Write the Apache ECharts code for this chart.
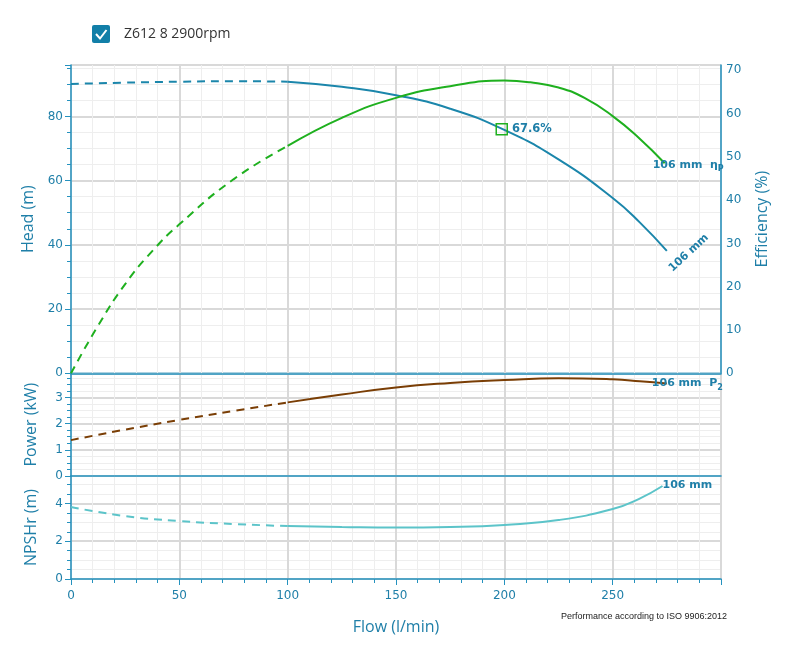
<!DOCTYPE html>
<html><head><meta charset="utf-8">
<script src="https://cdn.jsdelivr.net/npm/echarts@6/dist/echarts.min.js"></script>
<style>html,body{margin:0;padding:0;background:#fff}#c{width:788px;height:660px}</style>
</head><body><div id="c"></div>
<script>
// ---- data (flow in l/min) ----
const headDashFlow = [0, 25, 50, 75, 100];
const headDash     = [90.1, 90.5, 90.8, 90.95, 90.8];
const headFlow     = [100, 125, 150, 175, 200, 225, 250, 262.5, 275];
const head         = [90.8, 89.2, 86.6, 82.4, 75.8, 66.6, 54.6, 47.0, 38.1];

const effDashFlow  = [0, 12.5, 25, 37.5, 50, 75, 100];
const effDash      = [0, 11.0, 20.6, 28.2, 34.4, 44.8, 52.5];
const effFlow      = [100, 125, 150, 175, 200, 212, 225, 237, 250, 262, 274];
const eff          = [52.5, 59.0, 63.6, 66.3, 67.6, 67.2, 66.0, 63.6, 59.4, 54.4, 48.5];

const powDashFlow  = [0, 25, 50, 75, 100];
const powDash      = [1.37, 1.77, 2.14, 2.48, 2.81];
const powFlow      = [100, 125, 150, 175, 200, 225, 250, 262.5, 275];
const pow          = [2.81, 3.11, 3.38, 3.55, 3.66, 3.73, 3.69, 3.62, 3.53];

const npshDashFlow = [0, 25, 50, 75, 100];
const npshDash     = [3.81, 3.33, 3.07, 2.91, 2.80];
const npshFlow     = [100, 125, 150, 175, 200, 225, 250, 262, 273];
const npsh         = [2.80, 2.75, 2.72, 2.75, 2.86, 3.12, 3.70, 4.23, 4.92];

const bepPoint = [198.8, 76.0];
const bepLabel = '67.6%';
const curveLabel = '106 mm';
const legendText = 'Z612 8 2900rpm';

// ---- styles ----
const TX = '#1f7fa8', AX = '#2592bf', BORDER = '#1e7799';
const C_HEAD = '#1b86ab', C_EFF = '#1fb01f', C_POW = '#7a3e05', C_NPSH = '#5cc4c9';
const TICKF = 'DejaVu Sans', NAMEF = 'Open Sans';
const pairs = (xs, ys) => xs.map((x, i) => [x, ys[i]]);
const lblBold = {color: TX, fontWeight: 'bold', fontSize: 11, fontFamily: 'DejaVu Sans'};

function xAxisFor(g, bottom) {
  return {
    type: 'value', gridIndex: g, min: 0, max: 300, interval: 50,
    axisLine: {show: true, onZero: false, lineStyle: {color: AX, width: 1.5}},
    axisTick: {show: bottom, length: 6, lineStyle: {color: AX}},
    minorTick: {show: bottom, splitNumber: 5, length: 4, lineStyle: {color: AX}},
    axisLabel: {show: bottom, margin: 11, color: TX, fontSize: 12, fontFamily: TICKF, showMaxLabel: false},
    splitLine: {show: true, lineStyle: {color: '#d9d9d9', width: 2}},
    minorSplitLine: {show: true, lineStyle: {color: '#eeeeee', width: 1}},
    name: bottom ? 'Flow (l/min)' : '', nameLocation: 'middle', nameGap: 40,
    nameTextStyle: {color: TX, fontSize: 16, fontFamily: NAMEF}
  };
}
function yAxisFor(g, min, max, interval, minorSplit, name) {
  return {
    type: 'value', gridIndex: g, position: 'left', min: min, max: max, interval: interval,
    axisLine: {show: true, onZero: false, lineStyle: {color: AX, width: 1.5}},
    axisTick: {show: true, length: 6, lineStyle: {color: AX}},
    minorTick: {show: true, splitNumber: minorSplit, length: 4, lineStyle: {color: AX}},
    axisLabel: {margin: 8, color: TX, fontSize: 12, fontFamily: TICKF, showMaxLabel: false},
    splitLine: {show: true, lineStyle: {color: '#d9d9d9', width: 2}},
    minorSplitLine: {show: true, lineStyle: {color: '#eeeeee', width: 1}},
    name: name, nameLocation: 'middle', nameGap: 32,
    nameTextStyle: {color: TX, fontSize: 16, fontFamily: NAMEF}
  };
}
function line(xi, yi, data, color, dashed, extra) {
  return Object.assign({
    type: 'line', xAxisIndex: xi, yAxisIndex: yi, data: data, smooth: true,
    showSymbol: false, symbol: 'none', silent: true,
    lineStyle: {color: color, width: 2, type: dashed ? [8, 6] : 'solid'},
    itemStyle: {color: color}
  }, extra || {});
}

const chart = echarts.init(document.getElementById('c'), null, {renderer: 'canvas'});
chart.setOption({
  animation: false,
  backgroundColor: '#fff',
  grid: [
    {left: 71, width: 650, top: 65, height: 308.3, show: true, borderColor: BORDER, borderWidth: 1},
    {left: 71, width: 650, top: 373.3, height: 102.7, show: true, borderColor: AX, borderWidth: 1},
    {left: 71, width: 650, top: 476, height: 103, show: true, borderColor: AX, borderWidth: 1}
  ],
  xAxis: [xAxisFor(0, false), xAxisFor(1, false), xAxisFor(2, true)],
  yAxis: [
    yAxisFor(0, 0, 96, 20, 4, 'Head (m)'),
    {
      type: 'value', gridIndex: 0, position: 'right', min: 0, max: 71.2, interval: 10,
      axisLine: {show: true, onZero: false, lineStyle: {color: AX, width: 1.5}},
      axisTick: {show: false},
      axisLabel: {margin: 5, color: TX, fontSize: 12, fontFamily: TICKF, showMaxLabel: false},
      splitLine: {show: false},
      name: 'Efficiency (%)', nameLocation: 'middle', nameGap: 33,
      nameTextStyle: {color: TX, fontSize: 16, fontFamily: NAMEF}
    },
    yAxisFor(1, 0, 3.92, 1, 4, 'Power (kW)'),
    yAxisFor(2, 0, 5.45, 2, 4, 'NPSHr (m)')
  ],
  series: [
    line(0, 0, pairs(headDashFlow, headDash), C_HEAD, true),
    line(0, 0, pairs(headFlow, head), C_HEAD, false, {
      endLabel: {show: true, formatter: curveLabel, rotate: 43, align: 'left', verticalAlign: 'middle',
                 offset: [-16, 11], ...lblBold},
      markPoint: {
        symbol: 'rect', symbolSize: 11, silent: true,
        itemStyle: {color: 'rgba(0,0,0,0)', borderColor: C_EFF, borderWidth: 1.5},
        label: {show: true, position: 'right', distance: 4, formatter: bepLabel, ...lblBold, fontSize: 11.5},
        data: [{coord: bepPoint}]
      }
    }),
    line(0, 1, pairs(effDashFlow, effDash), C_EFF, true),
    line(0, 1, pairs(effFlow, eff), C_EFF, false, {
      endLabel: {show: true, align: 'left', verticalAlign: 'middle', offset: [-20, 2],
        formatter: '{a|' + curveLabel + '  η}{s|P}',
        rich: {a: {...lblBold}, s: {...lblBold, fontSize: 8, padding: [8, 0, 0, 0]}}}
    }),
    line(1, 2, pairs(powDashFlow, powDash), C_POW, true),
    line(1, 2, pairs(powFlow, pow), C_POW, false, {
      endLabel: {show: true, align: 'left', verticalAlign: 'middle', offset: [-23, 0],
        formatter: '{a|' + curveLabel + '  P}{s|2}',
        rich: {a: {...lblBold}, s: {...lblBold, fontSize: 8, padding: [8, 0, 0, 0]}}}
    }),
    line(2, 3, pairs(npshDashFlow, npshDash), C_NPSH, true),
    line(2, 3, pairs(npshFlow, npsh), C_NPSH, false, {
      endLabel: {show: true, align: 'left', verticalAlign: 'middle', offset: [-8, -1],
        formatter: curveLabel, ...lblBold}
    })
  ],
  graphic: [
    {type: 'rect', left: 92, top: 25, shape: {width: 18, height: 18, r: 2}, style: {fill: '#127fa8'}},
    {type: 'polyline', shape: {points: [[96, 34], [100, 38.5], [106.5, 30]]},
     style: {stroke: '#fff', lineWidth: 2, fill: null}},
    {type: 'text', x: 124, y: 34, style: {text: legendText, fill: '#333', font: '14px "Open Sans"', textVerticalAlign: 'middle'}},
    {type: 'text', x: 727, y: 617, style: {text: 'Performance according to ISO 9906:2012', fill: '#222',
      font: '9px "Liberation Sans"', textAlign: 'right', textVerticalAlign: 'middle'}}
  ]
});
</script></body></html>
